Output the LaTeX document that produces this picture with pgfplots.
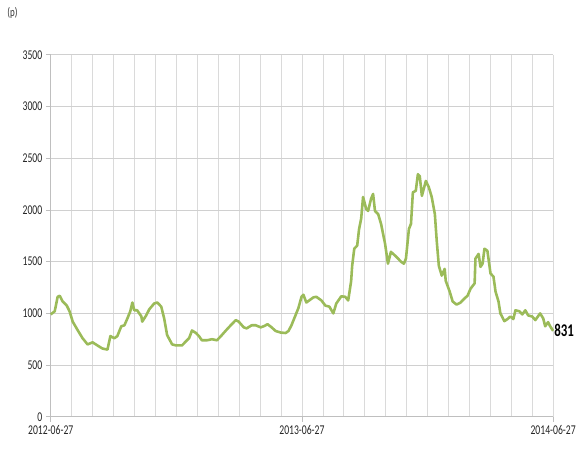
\documentclass[border=0pt]{standalone}
\usepackage{pgfplots}
\pgfplotsset{compat=1.18}
\usepackage{fontspec}
\setmainfont{Carlito}[FakeStretch=0.72]

\definecolor{linegreen}{HTML}{9BBB59}
\definecolor{gridv}{HTML}{DADADA}
\definecolor{gridh}{HTML}{D0D0D0}
\definecolor{axisgray}{HTML}{BFBFBF}

\begin{document}
\begin{tikzpicture}
\begin{axis}[
    scale only axis,
    width=505pt, height=364pt,
    xmin=0, xmax=24,
    ymin=0, ymax=3500,
    axis lines=left,
    axis line style={-, draw=axisgray, line width=0.8pt},
    xtick={0,12,24},
    xticklabels={2012-06-27,2013-06-27,2014-06-27},
    minor xtick={1,...,23},
    ytick={0,500,...,3500},
    grid=both,
    major grid style={draw=gridh, line width=0.8pt},
    major x grid style={draw=gridv, line width=0.6pt},
    minor grid style={draw=gridv, line width=0.6pt},
    tick align=outside,
    major tick length=5pt,
    minor tick length=0pt,
    tick style={draw=axisgray, line width=0.8pt},
    ticklabel style={font=\fontsize{13.5}{15}\selectfont, text=black!85},
    /pgf/number format/assume math mode=true,
    /pgf/number format/1000 sep={},
    clip=false,
]
\addplot[color=linegreen, line width=2.6pt, line join=round] coordinates {
(0.00,990) (0.19,1020) (0.33,1160) (0.43,1170) (0.57,1115) (0.76,1077)
(0.90,1020) (1.05,920) (1.28,840) (1.52,760) (1.76,700) (2.00,720)
(2.23,690) (2.47,660) (2.71,650) (2.85,780) (3.04,760) (3.18,780)
(3.37,875) (3.52,885) (3.66,950) (3.80,1020) (3.90,1105) (3.99,1030)
(4.13,1030) (4.33,970) (4.37,920) (4.56,980) (4.71,1040) (4.94,1095)
(5.09,1105) (5.28,1065) (5.42,950) (5.56,790) (5.80,700) (5.99,690)
(6.27,690) (6.46,730) (6.61,760) (6.75,835) (6.94,810) (7.08,780)
(7.22,740) (7.46,740) (7.70,750) (7.94,740) (8.13,780) (8.37,835)
(8.60,885) (8.84,935) (8.98,920) (9.22,865) (9.36,855) (9.60,885)
(9.79,885) (10.03,865) (10.17,875) (10.36,895) (10.55,865) (10.74,830)
(10.98,815) (11.22,810) (11.36,830) (11.50,885) (11.69,980) (11.83,1050)
(11.98,1160) (12.07,1180) (12.21,1105) (12.55,1155) (12.69,1160) (12.93,1125)
(13.12,1075) (13.31,1065) (13.50,1000) (13.64,1095) (13.88,1165) (14.07,1160)
(14.21,1125) (14.35,1310) (14.40,1460) (14.50,1625) (14.64,1655) (14.73,1815)
(14.83,1915) (14.92,2125) (15.07,2010) (15.16,1990) (15.30,2105) (15.40,2155)
(15.49,1990) (15.64,1960) (15.78,1865) (15.97,1675) (16.11,1480) (16.25,1595)
(16.44,1560) (16.59,1530) (16.73,1500) (16.87,1480) (16.97,1530) (17.11,1815)
(17.21,1865) (17.30,2170) (17.44,2185) (17.54,2345) (17.63,2325) (17.73,2135)
(17.92,2280) (18.06,2220) (18.20,2125) (18.35,1960) (18.44,1700) (18.54,1460)
(18.68,1365) (18.82,1430) (18.87,1315) (19.06,1210) (19.20,1115) (19.39,1085)
(19.58,1105) (19.77,1145) (19.91,1170) (20.06,1240) (20.25,1290) (20.29,1530)
(20.44,1575) (20.53,1450) (20.63,1480) (20.72,1625) (20.86,1605) (21.01,1385)
(21.15,1355) (21.25,1210) (21.39,1115) (21.48,1000) (21.67,925) (21.82,945)
(21.96,970) (22.10,945) (22.20,1030) (22.39,1020) (22.53,990) (22.67,1030)
(22.81,980) (23.00,970) (23.15,935) (23.38,1000) (23.53,950) (23.62,875)
(23.76,915) (23.86,875) (24.00,831)
};
\node[anchor=west, inner sep=1pt, font=\bfseries\fontsize{18}{20}\selectfont, text=black]
    at (axis cs:24,831) {831};
\end{axis}
\node[font=\fontsize{12.5}{14}\selectfont, text=black!80]
    at ([shift={(-38.5pt,406pt)}]current axis.south west) {(p)};
\path ([shift={(-51pt,-34pt)}]current axis.south west) rectangle ++(579pt,453pt);
\end{tikzpicture}
\end{document}
